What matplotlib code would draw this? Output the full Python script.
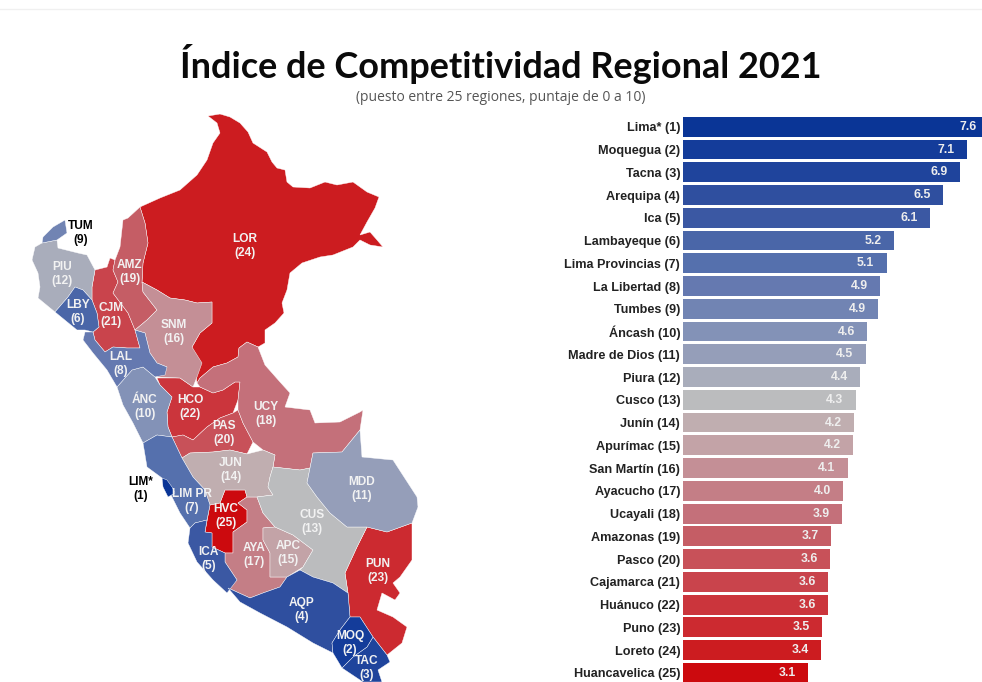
import matplotlib
matplotlib.use('Agg')
import matplotlib.pyplot as plt
from matplotlib.lines import Line2D
from matplotlib.patches import Polygon

# ranking, best first
regions = ['Lima*', 'Moquegua', 'Tacna', 'Arequipa', 'Ica', 'Lambayeque', 'Lima Provincias',
           'La Libertad', 'Tumbes', 'Áncash', 'Madre de Dios', 'Piura', 'Cusco', 'Junín',
           'Apurímac', 'San Martín', 'Ayacucho', 'Ucayali', 'Amazonas', 'Pasco', 'Cajamarca',
           'Huánuco', 'Puno', 'Loreto', 'Huancavelica']
# bar lengths, printed labels are rounded differently
scores = [7.6, 7.05, 6.88, 6.45, 6.13, 5.23, 5.05, 4.9, 4.85, 4.57, 4.53, 4.4, 4.29, 4.25,
          4.22, 4.09, 3.97, 3.94, 3.68, 3.65, 3.61, 3.61, 3.45, 3.43, 3.11]
score_labels = ['7.6', '7.1', '6.9', '6.5', '6.1', '5.2', '5.1', '4.9', '4.9', '4.6', '4.5', '4.4',
                '4.3', '4.2', '4.2', '4.1', '4.0', '3.9', '3.7', '3.6', '3.6', '3.6', '3.5', '3.4', '3.1']
rank_colors = ['#0a3596', '#143c9a', '#1f449c', '#2f4f9f', '#3b58a3', '#4a66a8', '#5570ad', '#6579b0',
               '#7184b3', '#8392b7', '#959eb9', '#a9adbb', '#bbbcbe', '#c0aeb0', '#c3a3a7', '#c48f96',
               '#c47e86', '#c4707a', '#c55d65', '#c85159', '#c9444c', '#cb353c', '#cc2a30', '#cc1c20',
               '#cc0a0e']

# map outlines
lim_shape = [(162, 478), (167, 480), (172, 487), (175, 493), (168, 497), (163, 487)]
moq_shape = [(350, 617), (360, 617), (373, 637), (367, 647), (353, 657), (342, 668), (333, 653),
             (332, 643), (340, 630)]
tac_shape = [(373, 637), (387, 655), (390, 662), (378, 670), (382, 682), (363, 682), (342, 668),
             (353, 657), (367, 647)]
aqp_shape = [(228, 588), (250, 598), (263, 593), (280, 587), (287, 577), (300, 570), (313, 577),
             (333, 583), (348, 593), (350, 617), (340, 630), (332, 643), (333, 653), (313, 643),
             (287, 627), (260, 613), (240, 602)]
ica_shape = [(190, 528), (195, 523), (207, 520), (205, 532), (212, 533), (212, 547), (225, 553),
             (225, 562), (237, 580), (227, 593), (213, 580), (197, 562), (188, 543)]
lby_shape = [(75, 287), (83, 290), (92, 300), (97, 313), (99, 327), (93, 332), (85, 330), (77, 330),
             (55, 312), (68, 297)]
limpr_shape = [(143, 443), (157, 435), (172, 437), (182, 458), (193, 477), (205, 490), (210, 505),
               (207, 520), (195, 523), (190, 528), (180, 513), (172, 497), (162, 478), (147, 467)]
lal_shape = [(85, 332), (93, 332), (95, 340), (105, 352), (113, 347), (127, 348), (140, 348),
             (135, 330), (145, 333), (150, 353), (157, 363), (167, 367), (165, 375), (155, 377),
             (143, 367), (132, 370), (117, 387), (107, 370), (93, 353), (83, 340)]
tum_shape = [(65, 220), (67, 233), (57, 240), (42, 243), (43, 237), (53, 227)]
anc_shape = [(117, 387), (132, 370), (143, 367), (155, 377), (160, 385), (172, 397), (167, 412),
             (168, 427), (172, 437), (157, 435), (143, 443), (133, 423), (123, 405)]
mdd_shape = [(360, 430), (362, 457), (393, 460), (417, 497), (418, 507), (412, 523), (387, 532),
             (367, 527), (347, 527), (330, 513), (317, 497), (307, 483), (310, 468), (313, 453),
             (342, 452)]
piu_shape = [(42, 243), (57, 240), (58, 248), (78, 253), (87, 255), (95, 270), (92, 287), (92, 300),
             (83, 290), (75, 287), (68, 297), (55, 312), (38, 298), (40, 287), (38, 273), (32, 260),
             (35, 247)]
cus_shape = [(273, 467), (300, 470), (310, 468), (307, 483), (317, 497), (330, 513), (347, 527),
             (367, 527), (357, 547), (345, 573), (348, 593), (333, 583), (313, 577), (300, 570),
             (303, 567), (313, 550), (293, 535), (275, 527), (263, 513), (257, 497), (273, 495),
             (268, 487), (270, 477)]
jun_shape = [(182, 458), (190, 453), (213, 452), (230, 450), (247, 454), (263, 450), (275, 455),
             (273, 467), (270, 477), (268, 487), (273, 495), (257, 497), (247, 497), (245, 490),
             (225, 490), (220, 503), (210, 505), (205, 490), (193, 477)]
apc_shape = [(275, 527), (293, 535), (313, 550), (303, 567), (287, 577), (270, 577), (270, 553),
             (263, 540), (263, 528)]
snm_shape = [(142, 282), (157, 290), (170, 298), (185, 300), (197, 303), (212, 302), (212, 323),
             (200, 333), (192, 347), (202, 363), (197, 377), (193, 387), (180, 378), (157, 377),
             (167, 367), (157, 363), (150, 353), (145, 333), (135, 330), (147, 320), (157, 310),
             (143, 292)]
aya_shape = [(247, 497), (257, 497), (263, 513), (275, 527), (263, 528), (263, 540), (270, 553),
             (270, 577), (287, 577), (280, 587), (263, 593), (250, 598), (228, 588), (237, 580),
             (225, 562), (225, 553), (233, 553), (233, 532), (247, 522), (247, 510), (238, 503)]
ucy_shape = [(197, 383), (200, 378), (213, 367), (227, 363), (238, 357), (239, 348), (247, 342),
             (258, 347), (265, 365), (280, 382), (290, 393), (285, 407), (310, 410), (315, 423),
             (340, 422), (360, 412), (363, 410), (360, 430), (342, 452), (313, 453), (310, 468),
             (300, 470), (273, 467), (275, 455), (263, 450), (253, 442), (243, 423), (238, 410),
             (238, 400), (240, 382), (235, 382), (223, 390), (213, 393), (200, 387)]
amz_shape = [(140, 207), (145, 223), (148, 243), (143, 263), (142, 282), (143, 292), (157, 310),
             (147, 320), (135, 330), (128, 313), (113, 293), (118, 282), (113, 270), (115, 260),
             (120, 247), (123, 220), (128, 218)]
pas_shape = [(233, 413), (238, 410), (243, 423), (253, 442), (247, 454), (230, 450), (213, 452),
             (190, 453), (182, 458), (172, 437), (183, 435), (193, 440), (207, 427), (220, 418)]
cjm_shape = [(110, 258), (115, 260), (113, 270), (118, 282), (113, 293), (128, 313), (135, 330),
             (140, 348), (127, 348), (113, 347), (105, 352), (95, 340), (93, 332), (99, 327),
             (97, 313), (92, 300), (92, 287), (95, 270), (107, 267)]
hco_shape = [(157, 378), (180, 378), (193, 387), (200, 387), (213, 393), (223, 390), (235, 382),
             (240, 382), (238, 400), (233, 413), (220, 418), (207, 427), (193, 440), (183, 435),
             (172, 437), (168, 427), (167, 412), (172, 397), (160, 385)]
pun_shape = [(367, 527), (387, 532), (412, 523), (412, 560), (400, 577), (393, 583), (400, 593),
             (395, 600), (382, 593), (377, 610), (393, 617), (407, 627), (402, 643), (387, 655),
             (373, 637), (360, 617), (350, 617), (348, 593), (345, 573), (357, 547)]
lor_shape = [(208, 116), (220, 114), (230, 117), (240, 123), (248, 132), (253, 143), (267, 152),
             (272, 162), (277, 168), (285, 170), (287, 182), (293, 187), (310, 188), (325, 182),
             (337, 185), (353, 182), (367, 192), (379, 197), (375, 208), (367, 222), (360, 235),
             (370, 232), (377, 240), (383, 247), (370, 245), (360, 240), (353, 247), (333, 255),
             (320, 257), (302, 263), (290, 273), (287, 290), (282, 303), (284, 313), (275, 323),
             (265, 330), (265, 343), (258, 347), (247, 342), (239, 348), (238, 357), (227, 363),
             (213, 367), (200, 378), (197, 383), (192, 347), (200, 333), (212, 323), (212, 302),
             (197, 303), (185, 300), (170, 298), (157, 290), (142, 282), (143, 263), (148, 243),
             (145, 223), (140, 207), (160, 198), (180, 190), (197, 175), (207, 160), (213, 143),
             (220, 133), (217, 123)]
hvc_shape = [(225, 490), (245, 490), (247, 497), (238, 503), (247, 510), (247, 522), (233, 532),
             (233, 553), (225, 553), (212, 547), (212, 533), (205, 532), (210, 505), (220, 503)]

# same order as regions
region_shapes = [lim_shape, moq_shape, tac_shape, aqp_shape, ica_shape, lby_shape, limpr_shape,
                 lal_shape, tum_shape, anc_shape, mdd_shape, piu_shape, cus_shape, jun_shape,
                 apc_shape, snm_shape, aya_shape, ucy_shape, amz_shape, pas_shape, cjm_shape,
                 hco_shape, pun_shape, lor_shape, hvc_shape]
region_codes = ['LIM*', 'MOQ', 'TAC', 'AQP', 'ICA', 'LBY', 'LIM PR', 'LAL', 'TUM', 'ÁNC', 'MDD', 'PIU',
                'CUS', 'JUN', 'APC', 'SNM', 'AYA', 'UCY', 'AMZ', 'PAS', 'CJM', 'HCO', 'PUN', 'LOR', 'HVC']
code_x = [141, 350, 367, 302, 209, 78, 192, 121, 81, 145, 362, 62, 312, 231, 288, 174, 254, 266,
          130, 224, 111, 190, 378, 245, 226]
code_y = [489, 643, 668, 610, 559, 312, 501, 364, 233, 407, 489, 274, 522, 470, 553, 332, 555, 414,
          272, 433, 315, 407, 571, 246, 516]
black_codes = ['LIM*', 'TUM']

plt.rcParams['font.family'] = ['Liberation Sans', 'DejaVu Sans']

fig = plt.figure(figsize=(9.82, 6.82), dpi=100)

# map axes in picture pixels
ax_map = fig.add_axes([0, 0, 1, 1])
ax_map.set_xlim(0, 982)
ax_map.set_ylim(682, 0)
ax_map.axis('off')

# worst first so the small Lima shape stays on top
for shape, color in list(zip(region_shapes, rank_colors))[::-1]:
    ax_map.add_patch(Polygon(shape, closed=True, facecolor=color, edgecolor='#ffffff', linewidth=0.3))

for i, code in enumerate(region_codes):
    color = 'black' if code in black_codes else '#f2f2f2'
    ax_map.text(code_x[i], code_y[i], '%s\n(%d)' % (code, i + 1), color=color, fontsize=8.6,
                fontweight='bold', ha='center', va='center', linespacing=1.15)

ax_map.text(501, 64, 'Índice de Competitividad Regional 2021', fontsize=25.9, fontweight='bold',
            family=['Lato', 'DejaVu Sans'], ha='center', va='center', color='#0a0a0a')
ax_map.text(501, 97.5, '(puesto entre 25 regiones, puntaje de 0 a 10)', fontsize=10,
            family=['Open Sans', 'DejaVu Sans'], ha='center', va='center', color='#555555')
fig.add_artist(Line2D([0, 1], [1 - 9 / 682, 1 - 9 / 682], color='#f0f0f0', linewidth=1))

# bars
ax_bar = fig.add_axes([683 / 982, 0, 299 / 982, 1])
ax_bar.patch.set_visible(False)
ax_bar.set_xlim(0, 299 / 40.3)
ax_bar.set_ylim(24.4, -5.57)
ax_bar.barh(range(len(scores)), scores, height=0.87, color=rank_colors)
ax_bar.set_yticks(range(len(regions)))
ax_bar.set_yticklabels(['%s (%d)' % (r, i + 1) for i, r in enumerate(regions)], fontsize=9.05,
                       fontweight='bold', color='#222222')
ax_bar.tick_params(axis='y', length=0, pad=2)
ax_bar.xaxis.set_visible(False)
for side in ax_bar.spines:
    ax_bar.spines[side].set_visible(False)

for i, label in enumerate(score_labels):
    ax_bar.text(scores[i] - 0.52, i, label, color='#eeeeee', fontsize=8.8, fontweight='bold',
                ha='center', va='center')

fig.savefig('out.png', dpi=100)
